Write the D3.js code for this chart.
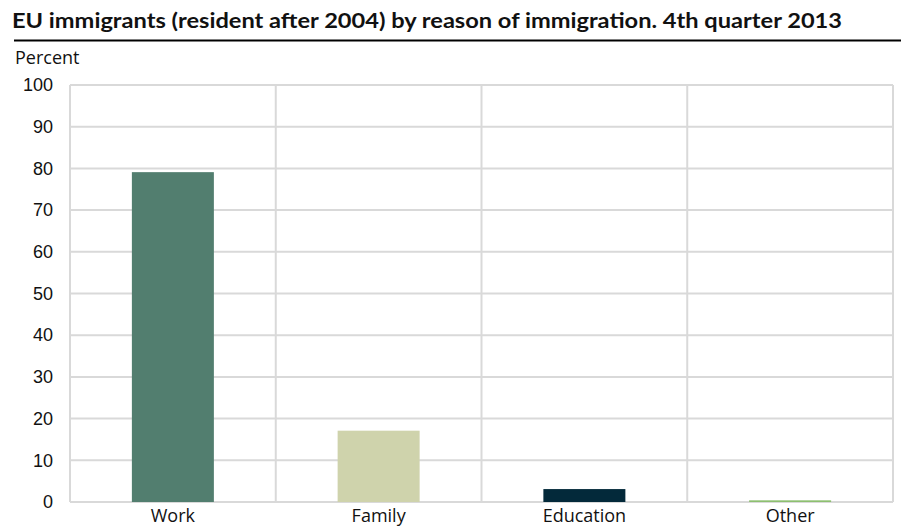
<!DOCTYPE html>
<html>
<head>
<meta charset="utf-8">
<script src="https://cdn.jsdelivr.net/npm/d3@7.9.0/dist/d3.min.js"></script>
<style>
  body { margin: 0; background: #fff; }
  svg { display: block; }
</style>
</head>
<body>
<svg id="chart" width="901" height="529"></svg>
<script>
// ---- data ----
const categories = ['Work', 'Family', 'Education', 'Other'];
const values = [79.1, 17.1, 3.1, 0.4];
const barColors = ['#527e6f', '#cfd3ac', '#03293a', '#8dbf70'];
const yTicks = [0, 10, 20, 30, 40, 50, 60, 70, 80, 90, 100];

const title = 'EU immigrants (resident after 2004) by reason of immigration. 4th quarter 2013';

const width = 901, height = 529;
const margin = { top: 85, right: 8, bottom: 27, left: 70 };

const svg = d3.select('#chart');

// title + rule
svg.append('text')
  .attr('x', 12)
  .attr('y', 28)
  .attr('font-family', 'Lato, "Open Sans", sans-serif')
  .attr('font-weight', 'bold')
  .attr('font-size', 20)
  .attr('textLength', 830)
  .attr('lengthAdjust', 'spacingAndGlyphs')
  .attr('fill', '#111')
  .text(title);

svg.append('line')
  .attr('x1', 14).attr('x2', width)
  .attr('y1', 40.5).attr('y2', 40.5)
  .attr('stroke', '#000')
  .attr('stroke-width', 2);

svg.append('text')
  .attr('x', 15)
  .attr('y', 64)
  .attr('font-family', '"Open Sans", sans-serif')
  .attr('font-size', 18)
  .attr('fill', '#111')
  .text('Percent');

// ---- scales ----
const x = d3.scaleBand()
  .domain(categories)
  .range([margin.left, width - margin.right])
  .paddingInner(0)
  .paddingOuter(0);

const y = d3.scaleLinear()
  .domain([0, 100])
  .range([height - margin.bottom, margin.top]);

// horizontal gridlines
svg.append('g')
  .attr('class', 'gridlines')
  .selectAll('line')
  .data(yTicks)
  .join('line')
  .attr('x1', margin.left)
  .attr('x2', width - margin.right)
  .attr('y1', d => y(d))
  .attr('y2', d => y(d))
  .attr('stroke', '#d9d9d9')
  .attr('stroke-width', 2);

// vertical gridlines at band edges
const edges = categories.map(c => x(c)).concat([x(categories[categories.length - 1]) + x.bandwidth()]);
svg.append('g')
  .selectAll('line')
  .data(edges)
  .join('line')
  .attr('x1', d => d)
  .attr('x2', d => d)
  .attr('y1', y(100))
  .attr('y2', y(0))
  .attr('stroke', '#d9d9d9')
  .attr('stroke-width', 2);

// bars
const barW = 82;
svg.append('g')
  .selectAll('rect')
  .data(categories)
  .join('rect')
  .attr('x', d => x(d) + (x.bandwidth() - barW) / 2)
  .attr('width', barW)
  .attr('y', (d, i) => y(values[i]))
  .attr('height', (d, i) => y(0) - y(values[i]))
  .attr('fill', (d, i) => barColors[i]);

// y axis labels
const yAxis = svg.append('g')
  .attr('transform', `translate(${margin.left},0)`)
  .call(d3.axisLeft(y).tickValues(yTicks).tickSize(0).tickPadding(17));
yAxis.select('.domain').remove();
yAxis.selectAll('text')
  .attr('font-family', '"Liberation Sans", Arial, sans-serif')
  .attr('font-size', 18)
  .attr('fill', '#111');

// x axis labels
const xAxis = svg.append('g')
  .attr('transform', `translate(0,${y(0)})`)
  .call(d3.axisBottom(x).tickSize(0).tickPadding(7));
xAxis.select('.domain').remove();
xAxis.selectAll('text')
  .attr('font-family', '"Open Sans", sans-serif')
  .attr('font-size', 18)
  .attr('fill', '#111');
</script>
</body>
</html>
